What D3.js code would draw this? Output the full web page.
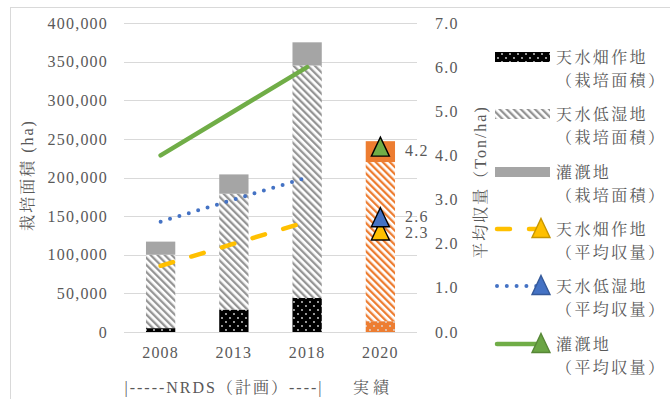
<!DOCTYPE html>
<html>
<head>
<meta charset="utf-8">
<script src="https://cdn.jsdelivr.net/npm/d3@7"></script>
<style>
  body { margin: 0; background: #fff; }
</style>
</head>
<body>
<svg id="chart" width="670" height="399"></svg>
<script>
// categories and values
var years = ["2008", "2013", "2018", "2020"];
var areaUpland = [5000, 29000, 44000, 14000];      // 天水畑作地 (ha)
var areaLowland = [95000, 150000, 301000, 206000]; // 天水低湿地 (ha)
var areaIrrigated = [17000, 25000, 30000, 27000];  // 灌漑地 (ha)
var planYears = ["2008", "2013", "2018"];
var yieldUpland = [1.5, 2.0, 2.5];
var yieldLowland = [2.5, 3.0, 3.5];
var yieldIrrigated = [4.0, 5.0, 6.0];
var actualYield = [2.3, 2.6, 4.2]; // 2020 upland, lowland, irrigated
var leftTicks = [0, 50000, 100000, 150000, 200000, 250000, 300000, 350000, 400000];
var rightTicks = [0, 1, 2, 3, 4, 5, 6, 7];

var svg = d3.select('#chart');
var MARGINS = {left: 124, right: 417, top: 23, bottom: 332};
var FONT = '"Liberation Serif", "Noto Serif CJK JP", monospace';

var x = d3.scaleBand().domain(years)
    .range([MARGINS.left, MARGINS.right])
    .paddingInner(0.6).paddingOuter(0.3);
var yL = d3.scaleLinear().domain([0, 400000]).range([MARGINS.bottom, MARGINS.top]);
var yR = d3.scaleLinear().domain([0, 7]).range([MARGINS.bottom, MARGINS.top]);

// chart border (only top and left fall inside the picture)
svg.append('rect').attr('x', 10.5).attr('y', 7.5).attr('width', 700).attr('height', 420)
    .attr('fill', 'none').attr('stroke', '#d9d9d9');

// patterns
var defs = svg.append('defs');
function dots(id, bg){
    var p = defs.append('pattern').attr('id', id).attr('patternUnits', 'userSpaceOnUse')
        .attr('width', 8).attr('height', 8);
    p.append('rect').attr('width', 8).attr('height', 8).attr('fill', bg);
    p.append('circle').attr('cx', 2).attr('cy', 2).attr('r', 0.9).attr('fill', '#ddd');
    p.append('circle').attr('cx', 6).attr('cy', 6).attr('r', 0.9).attr('fill', '#ddd');
}
function hatch(id, col){
    var p = defs.append('pattern').attr('id', id).attr('patternUnits', 'userSpaceOnUse')
        .attr('width', 5).attr('height', 5).attr('patternTransform', 'rotate(-45)');
    p.append('rect').attr('width', 5).attr('height', 5).attr('fill', '#fff');
    p.append('rect').attr('width', 2.3).attr('height', 5).attr('fill', col);
}
dots('dotBlack', '#000');
dots('dotOrange', '#ED7D31');
hatch('hatchGray', '#959595');
hatch('hatchOrange', '#ED7D31');

// gridlines
svg.append('g').selectAll('line').data(leftTicks).enter().append('line')
    .attr('x1', MARGINS.left).attr('x2', MARGINS.right)
    .attr('y1', function(d){ return Math.round(yL(d)) + 0.5; })
    .attr('y2', function(d){ return Math.round(yL(d)) + 0.5; })
    .attr('stroke', '#d9d9d9').attr('stroke-width', 1);

// axes
var leftAxis = d3.axisLeft(yL).tickValues(leftTicks).tickSize(0).tickPadding(0)
    .tickFormat(d3.format(','));
var gL = svg.append('g').attr('transform', 'translate(108,0)').call(leftAxis);
var rightAxis = d3.axisRight(yR).tickValues(rightTicks).tickSize(0).tickPadding(0)
    .tickFormat(d3.format('.1f'));
var gR = svg.append('g').attr('transform', 'translate(435,0)').call(rightAxis);
var bottomAxis = d3.axisBottom(x).tickSize(0).tickPadding(0);
var gB = svg.append('g').attr('transform', 'translate(0,' + 343 + ')').call(bottomAxis);
[gL, gR, gB].forEach(function(g){
    g.select('.domain').remove();
    g.selectAll('text').style('letter-spacing', '1.2px');
});
gB.selectAll('text').attr('dy', '0.95em');

// stacked bars
var stackData = years.map(function(y, i){
    return {year: y, upland: areaUpland[i], lowland: areaLowland[i], irrigated: areaIrrigated[i]};
});
var stack = d3.stack().keys(['upland', 'lowland', 'irrigated'])(stackData);
var fills = {
    upland: function(d){ return d.data.year === '2020' ? 'url(#dotOrange)' : 'url(#dotBlack)'; },
    lowland: function(d){ return d.data.year === '2020' ? 'url(#hatchOrange)' : 'url(#hatchGray)'; },
    irrigated: function(d){ return d.data.year === '2020' ? '#ED7D31' : '#A5A5A5'; }
};
stack.forEach(function(layer){
    svg.append('g').selectAll('rect').data(layer).enter().append('rect')
        .attr('x', function(d){ return x(d.data.year); })
        .attr('width', x.bandwidth())
        .attr('y', function(d){ return yL(d[1]); })
        .attr('height', function(d){ return yL(d[0]) - yL(d[1]); })
        .attr('fill', fills[layer.key]);
});

// yield lines
var lineFunc = d3.line()
    .x(function(d){ return x(d.year) + x.bandwidth() / 2; })
    .y(function(d){ return yR(d.v); });
function pts(arr){ return arr.map(function(v, i){ return {year: planYears[i], v: v}; }); }
svg.append('path').attr('d', lineFunc(pts(yieldIrrigated)))
    .attr('fill', 'none').attr('stroke', '#70AD47').attr('stroke-width', 4.5).attr('stroke-linecap', 'round');
svg.append('path').attr('d', lineFunc(pts(yieldLowland)))
    .attr('fill', 'none').attr('stroke', '#4472C4').attr('stroke-width', 4)
    .attr('stroke-linecap', 'round').attr('stroke-dasharray', '0,9.8');
svg.append('path').attr('d', lineFunc(pts(yieldUpland)))
    .attr('fill', 'none').attr('stroke', '#FFC000').attr('stroke-width', 4.5)
    .attr('stroke-linecap', 'round').attr('stroke-dasharray', '13,19');

// 2020 triangles
function tri(w, h){ return 'M0,' + (-h/2) + 'L' + (w/2) + ',' + (h/2) + 'L' + (-w/2) + ',' + (h/2) + 'Z'; }
var markerCols = ['#FFC000', '#4472C4', '#70AD47'];
var cx2020 = x('2020') + x.bandwidth() / 2;
var markerOrder = [0, 1, 2];
svg.append('g').selectAll('path').data(markerOrder).enter().append('path')
    .attr('d', tri(18, 19))
    .attr('transform', function(i){ return 'translate(' + cx2020 + ',' + yR(actualYield[i]) + ')'; })
    .attr('fill', function(i){ return markerCols[i]; })
    .attr('stroke', '#000').attr('stroke-width', 1.4).attr('stroke-linejoin', 'miter');
svg.append('g').selectAll('text').data([2, 1, 0]).enter().append('text')
    .attr('x', 405)
    .attr('y', function(i){ return yR(actualYield[i]) + (i === 0 ? 2 : (i === 1 ? -1 : 4)); })
    .attr('dy', '0.35em')
    .style('letter-spacing', '1.2px')
    .text(function(i){ return d3.format('.1f')(actualYield[i]); });

// category group labels
svg.append('text').attr('x', 224).attr('y', 387).attr('dy', '0.35em').attr('text-anchor', 'middle')
    .style('letter-spacing', '2px').text('|-----NRDS（計画）----|');
svg.append('text').attr('x', 373).attr('y', 387).attr('dy', '0.35em').attr('text-anchor', 'middle')
    .style('letter-spacing', '4px').text('実績');

// axis titles
svg.append('text').attr('transform', 'translate(27,175) rotate(-90)').attr('dy', '0.35em')
    .attr('text-anchor', 'middle').style('letter-spacing', '2px')
    .text('栽培面積 (ha)');
svg.append('text').attr('transform', 'translate(480,182) rotate(-90)').attr('dy', '0.35em')
    .attr('text-anchor', 'middle').style('letter-spacing', '2px')
    .text('平均収量（Ton/ha)');

// legend
var legendNames = ['天水畑作地', '天水低湿地', '灌漑地', '天水畑作地', '天水低湿地', '灌漑地'];
var legendSub = ['（栽培面積）', '（栽培面積）', '（栽培面積）', '（平均収量）', '（平均収量）', '（平均収量）'];
var legY = [57, 114, 172, 229, 286, 344];
var lg = svg.append('g');
var rectFills = ['url(#dotBlack)', 'url(#hatchGray)', '#A5A5A5'];
rectFills.forEach(function(f, i){
    lg.append('rect').attr('x', 495).attr('y', legY[i] - 5).attr('width', 55).attr('height', 10).attr('fill', f);
});
var legLines = [
    {col: '#FFC000', dash: '13,19', w: 4.5},
    {col: '#4472C4', dash: '0,9.8', w: 4},
    {col: '#70AD47', dash: null, w: 4.5}
];
legLines.forEach(function(l, k){
    var i = k + 3;
    lg.append('line').attr('x1', 497).attr('x2', 540).attr('y1', legY[i]).attr('y2', legY[i])
        .attr('stroke', l.col).attr('stroke-width', l.w).attr('stroke-linecap', 'round')
        .attr('stroke-dasharray', l.dash);
    lg.append('path').attr('d', tri(18, 19)).attr('transform', 'translate(541,' + (legY[i] - 1) + ')')
        .attr('fill', l.col === '#70AD47' ? '#6aa544' : l.col).attr('stroke', d3.color(l.col).darker(0.7))
        .attr('stroke-width', 1.4);
});
legendNames.forEach(function(n, i){
    lg.append('text').attr('x', 556).attr('y', legY[i]).attr('dy', '0.35em')
        .style('letter-spacing', '2.4px').text(n);
    lg.append('text').attr('x', 556).attr('y', legY[i] + 23).attr('dy', '0.35em')
        .style('letter-spacing', '2.4px').text(legendSub[i]);
});

// one font for every text, set inline
svg.selectAll('text')
    .style('font-family', FONT)
    .style('font-size', '16px')
    .attr('fill', '#595959');
</script>
</body>
</html>
